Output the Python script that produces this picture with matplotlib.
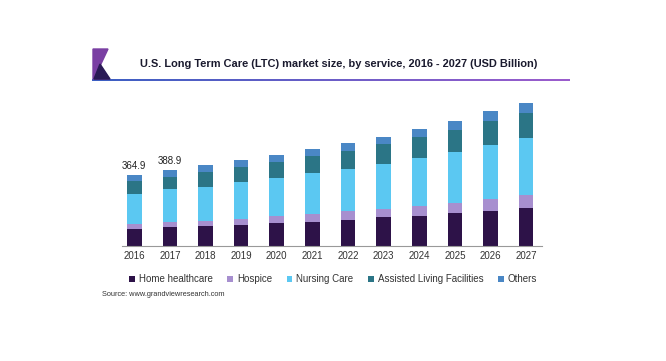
import numpy as np
import matplotlib.pyplot as plt
from matplotlib.patches import Polygon
from matplotlib.collections import LineCollection
from matplotlib.colors import LinearSegmentedColormap

years = ['2016', '2017', '2018', '2019', '2020', '2021',
         '2022', '2023', '2024', '2025', '2026', '2027']
home = [87, 97, 103, 108, 117, 123, 132, 146, 154, 168, 178, 194]
hospice = [26, 24, 27, 31, 38, 43, 46, 45, 51, 53, 65, 65]
nursing = [154, 170, 175, 189, 192, 207, 219, 231, 245, 264, 276, 295]
assisted = [67, 62, 75, 75, 84, 89, 91, 101, 108, 110, 123, 128]
others = [31, 36, 34, 36, 34, 34, 40, 39, 45, 46, 50, 51]
totals = ['364.9', '388.9']

series = [home, hospice, nursing, assisted, others]
names = ['Home healthcare', 'Hospice', 'Nursing Care', 'Assisted Living Facilities', 'Others']
colors = ['#2d1248', '#a78fcf', '#5bc8f2', '#2b7586', '#4a87c5']

plt.rcParams['font.family'] = ['Liberation Sans', 'DejaVu Sans']

fig = plt.figure(figsize=(6.66, 3.61), dpi=100)
ax = fig.add_axes([0.183, 0.319, 0.631, 0.404])

x = np.arange(len(years))
bottom = np.zeros(len(years))
handles = []
for vals, name, c in zip(series, names, colors):
    b = ax.bar(x, vals, 0.41, bottom=bottom, color=c, label=name)
    handles.append(b)
    bottom += np.array(vals)

for i, t in enumerate(totals):
    ax.text(x[i], bottom[i] + 20, t, ha='center', va='bottom', fontsize=7, color='#222222')

ax.set_xlim(-0.35, 11.45)
ax.set_ylim(0, 750)
ax.set_xticks(x)
ax.set_xticklabels(years, fontsize=7, color='#333333')
ax.tick_params(axis='x', length=0, pad=4)
ax.set_yticks([])
for s in ['top', 'right', 'left']:
    ax.spines[s].set_visible(False)
ax.spines['bottom'].set_color('#999999')
ax.spines['bottom'].set_linewidth(0.8)

leg = fig.legend(handles=handles, loc='center', bbox_to_anchor=(0.5, 0.227), ncol=5,
                 frameon=False, fontsize=7, handlelength=0.6, handleheight=0.6,
                 handletextpad=0.4, columnspacing=1.5)
for t in leg.get_texts():
    t.set_color('#333333')

fig.text(102 / 666, 1 - 295 / 361, 'Source: www.grandviewresearch.com', fontsize=5.3,
         color='#333333', va='center')

# header
fig.text(140 / 666, 1 - 64 / 361, 'U.S. Long Term Care (LTC) market size, by service, 2016 - 2027 (USD Billion)',
         fontsize=7.9, fontweight='bold', color='#1a1a2e', va='center')

W, H = 666, 361
def fc(px, py):
    return (px / W, 1 - py / H)

fig.patches.append(Polygon([fc(93, 49), fc(108, 49), fc(100, 66), fc(109, 79), fc(93, 79)],
                           closed=True, transform=fig.transFigure, color='#7a3fa3', zorder=3))
fig.patches.append(Polygon([fc(100, 64), fc(110, 79), fc(94, 79)],
                           closed=True, transform=fig.transFigure, color='#2a1a55', zorder=4))

xs = np.linspace(93, 569, 40)
pts = np.array([[fc(a, 80) for a in xs]]).reshape(-1, 1, 2)
segs = np.concatenate([pts[:-1], pts[1:]], axis=1)
cmap = LinearSegmentedColormap.from_list('hdr', ['#3c5ec2', '#9a5ccc'])
lc = LineCollection(segs, colors=cmap(np.linspace(0, 1, len(segs))), linewidths=1.1,
                    capstyle='projecting', antialiaseds=False, transform=fig.transFigure)
fig.add_artist(lc)

fig.savefig('out.png', dpi=100)
